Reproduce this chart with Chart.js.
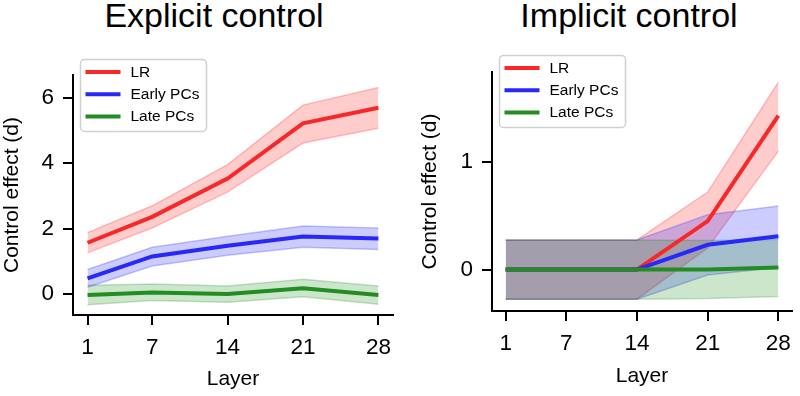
<!DOCTYPE html>
<html>
<head>
<meta charset="utf-8">
<script src="https://cdn.jsdelivr.net/npm/chart.js@4.4.1/dist/chart.umd.min.js"></script>
<style>
  html, body { margin: 0; padding: 0; background: #fff; }
  #wrap { position: relative; width: 800px; height: 396px; overflow: hidden; }
  canvas { position: absolute; top: 0; }
  .ttl {
    position: absolute; top: -2px; transform: translateX(-50%);
    font: 34px/34px "Liberation Sans", Arial, Helvetica, sans-serif;
    color: #000; white-space: nowrap;
  }
</style>
</head>
<body>
<div id="wrap">
  <div class="ttl" style="left:214px">Explicit control</div>
  <div class="ttl" style="left:629px">Implicit control</div>
  <canvas id="explicit-chart" width="400" height="396" style="left:0"></canvas>
  <canvas id="implicit-chart" width="400" height="396" style="left:400px"></canvas>
</div>
<script>
// Layers probed (shared x positions / tick labels for both panels)
const LAYERS = [1, 7, 14, 21, 28];
const SERIES_LABELS = ["LR", "Early PCs", "Late PCs"];

// Explicit control: mean effect and shaded band (upper / lower)
const EXP_LR_MEAN     = [1.57, 2.36, 3.53, 5.22, 5.70];
const EXP_LR_UPPER    = [1.88, 2.70, 3.96, 5.78, 6.32];
const EXP_LR_LOWER    = [1.26, 2.02, 3.12, 4.62, 5.07];
const EXP_EARLY_MEAN  = [0.48, 1.15, 1.48, 1.76, 1.70];
const EXP_EARLY_UPPER = [0.75, 1.43, 1.77, 2.08, 2.02];
const EXP_EARLY_LOWER = [0.21, 0.86, 1.19, 1.43, 1.36];
const EXP_LATE_MEAN   = [-0.03, 0.05, 0.00, 0.18, -0.03];
const EXP_LATE_UPPER  = [0.27, 0.31, 0.25, 0.45, 0.25];
const EXP_LATE_LOWER  = [-0.33, -0.20, -0.25, -0.08, -0.31];
const EXP_Y_TICKS = [0, 2, 4, 6];

// Implicit control
const IMP_LR_MEAN     = [0, 0, 0, 0.45, 1.43];
const IMP_LR_UPPER    = [0.275, 0.275, 0.275, 0.72, 1.74];
const IMP_LR_LOWER    = [-0.275, -0.275, -0.275, 0.20, 1.10];
const IMP_EARLY_MEAN  = [0, 0, 0, 0.23, 0.31];
const IMP_EARLY_UPPER = [0.275, 0.275, 0.275, 0.51, 0.59];
const IMP_EARLY_LOWER = [-0.275, -0.275, -0.275, -0.05, 0.02];
const IMP_LATE_MEAN   = [0, 0, 0, 0.00, 0.02];
const IMP_LATE_UPPER  = [0.275, 0.275, 0.275, 0.27, 0.28];
const IMP_LATE_LOWER  = [-0.275, -0.275, -0.275, -0.27, -0.25];
const IMP_Y_TICKS = [0, 1];

const FONT = '"Liberation Sans", Arial, Helvetica, sans-serif';
Chart.defaults.font.family = FONT;
Chart.defaults.color = "#000";

// line colour, band rgb
const COLORS = [
    { line: "#f82828", rgb: "255, 0, 0" },
    { line: "#2828f8", rgb: "0, 0, 255" },
    { line: "#238c23", rgb: "0, 128, 0" },
];

const pts = arr => arr.map((v, i) => ({ x: LAYERS[i], y: v }));

// matplotlib-style legend sitting inside the axes, upper left
const insideLegend = {
    id: "insideLegend",
    afterDatasetsDraw(chart, args, opts) {
        const { ctx, chartArea } = chart;
        const items = chart.data.datasets.filter(d => d.label);
        const x0 = Math.round(chartArea.left + opts.dx) + 0.5;
        const y0 = Math.round(chartArea.top + opts.dy) + 0.5;
        const w = 126, h = 72;
        ctx.save();
        ctx.beginPath();
        ctx.roundRect(x0, y0, w, h, 4);
        ctx.fillStyle = "rgba(255,255,255,0.8)";
        ctx.fill();
        ctx.strokeStyle = "#d0d0d0";
        ctx.lineWidth = 1.5;
        ctx.stroke();
        items.forEach((d, i) => {
            const y = y0 + 12.5 + i * 22.2;
            ctx.strokeStyle = d.borderColor;
            ctx.lineWidth = 4;
            ctx.beginPath();
            ctx.moveTo(x0 + 5, y);
            ctx.lineTo(x0 + 40, y);
            ctx.stroke();
            ctx.fillStyle = "#000";
            ctx.font = "15.5px " + FONT;
            ctx.textBaseline = "middle";
            ctx.fillText(d.label, x0 + 50, y + 0.5);
        });
        ctx.restore();
    },
};

function renderPanel(canvasId, cfg) {
    const canvas = document.getElementById(canvasId);
    const datasets = [];
    // mean lines (index 0..2) — low order so they sit on top of the bands
    cfg.means.forEach((m, s) => {
        datasets.push({
            label: SERIES_LABELS[s],
            data: pts(m),
            borderColor: COLORS[s].line,
            borderWidth: 4,
            pointRadius: 0,
            fill: false,
            order: 3 - s,
        });
    });
    // band datasets: upper fills down to its lower partner
    cfg.uppers.forEach((u, s) => {
        const rgb = COLORS[s].rgb;
        const upperIdx = datasets.length;
        datasets.push({
            data: pts(u),
            borderColor: `rgba(${rgb}, 0.22)`,
            backgroundColor: `rgba(${rgb}, 0.2)`,
            borderWidth: 1.5,
            pointRadius: 0,
            fill: { target: upperIdx + 1 },
            order: 30 - s * 2,
        });
        datasets.push({
            data: pts(cfg.lowers[s]),
            borderColor: `rgba(${rgb}, 0.22)`,
            borderWidth: 1.5,
            pointRadius: 0,
            fill: false,
            order: 29 - s * 2,
        });
    });

    const tickGrid = {
        display: true,
        drawOnChartArea: false,
        drawTicks: true,
        tickLength: 10,
        color: "#000",
        lineWidth: 2,
    };

    new Chart(canvas, {
        type: "line",
        data: { datasets },
        plugins: [insideLegend],
        options: {
            responsive: false,
            animation: false,
            events: [],
            devicePixelRatio: 1,
            layout: { padding: cfg.padding },
            plugins: {
                legend: { display: false },
                tooltip: { enabled: false },
                insideLegend: { dx: 7, dy: cfg.legendDy },
            },
            scales: {
                x: {
                    type: "linear",
                    min: -0.35,
                    max: 29.35,
                    afterBuildTicks: sc => { sc.ticks = LAYERS.map(v => ({ value: v })); },
                    afterFit: sc => { sc.height = cfg.xHeight; },
                    grid: tickGrid,
                    border: { display: true, color: "#000", width: 2 },
                    ticks: {
                        font: { size: 22.5 },
                        padding: 9,
                        maxRotation: 0,
                        autoSkip: false,
                        callback: v => String(v),
                    },
                    title: {
                        display: true,
                        text: "Layer",
                        font: { size: 21 },
                        padding: { top: 0, bottom: cfg.xTitlePad },
                    },
                },
                y: {
                    type: "linear",
                    min: cfg.yMin,
                    max: cfg.yMax,
                    afterBuildTicks: sc => { sc.ticks = cfg.yTicks.map(v => ({ value: v })); },
                    afterFit: sc => { sc.width = cfg.yWidth; },
                    grid: tickGrid,
                    border: { display: true, color: "#000", width: 2 },
                    ticks: {
                        font: { size: 22.5 },
                        padding: 9,
                        callback: v => String(v),
                    },
                    title: {
                        display: true,
                        text: "Control effect (d)",
                        font: { size: 21 },
                        padding: { top: cfg.yTitlePad, bottom: 0 },
                    },
                },
            },
        },
    });
}

renderPanel("explicit-chart", {
    means:  [EXP_LR_MEAN, EXP_EARLY_MEAN, EXP_LATE_MEAN],
    uppers: [EXP_LR_UPPER, EXP_EARLY_UPPER, EXP_LATE_UPPER],
    lowers: [EXP_LR_LOWER, EXP_EARLY_LOWER, EXP_LATE_LOWER],
    yTicks: EXP_Y_TICKS,
    yMin: -0.64,
    yMax: 6.70,
    padding: { left: 0, top: 75, right: 2, bottom: 0 },
    yWidth: 73,
    xHeight: 81,
    xTitlePad: 4,
    yTitlePad: 0,
    legendDy: -16,
});

renderPanel("implicit-chart", {
    means:  [IMP_LR_MEAN, IMP_EARLY_MEAN, IMP_LATE_MEAN],
    uppers: [IMP_LR_UPPER, IMP_EARLY_UPPER, IMP_LATE_UPPER],
    lowers: [IMP_LR_LOWER, IMP_EARLY_LOWER, IMP_LATE_LOWER],
    yTicks: IMP_Y_TICKS,
    yMin: -0.385,
    yMax: 1.835,
    padding: { left: 0, top: 72, right: 3, bottom: 0 },
    yWidth: 92,
    xHeight: 85,
    xTitlePad: 7,
    yTitlePad: 18,
    legendDy: -17,
});
</script>
</body>
</html>
